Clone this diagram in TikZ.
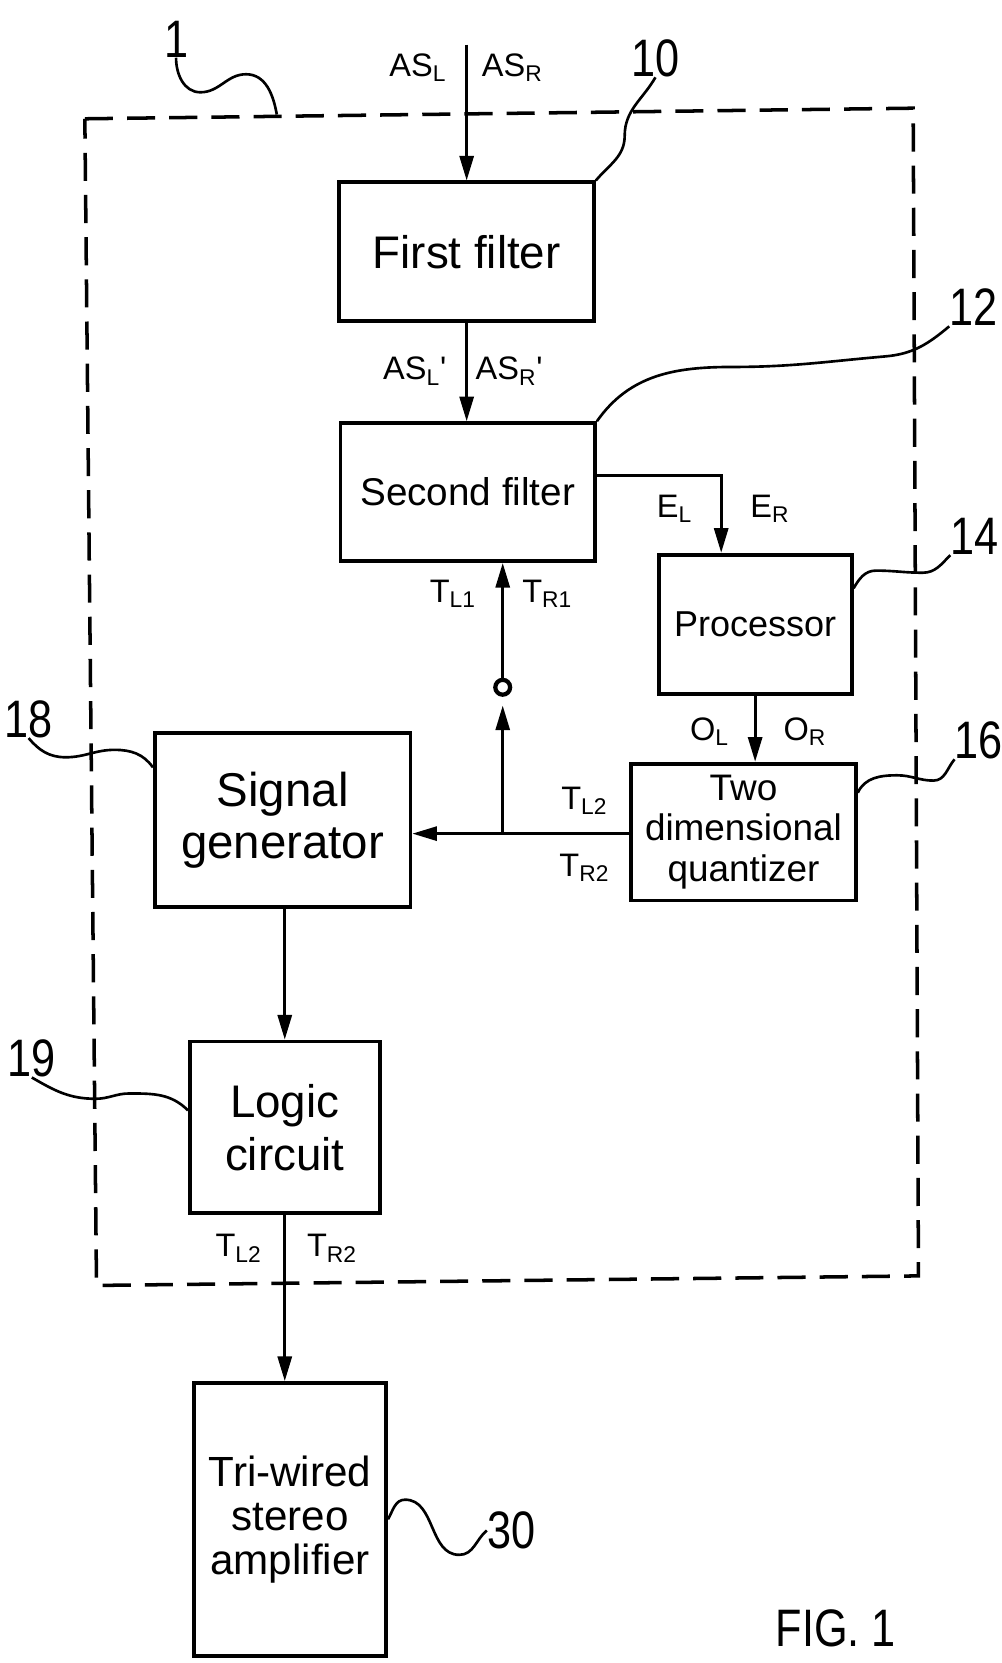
\documentclass[tikz,border=0pt]{standalone}
\usepackage{fontspec}
\setmainfont{Liberation Sans}
\newfontfamily\condfont[FakeStretch=0.82]{Liberation Sans}
\usetikzlibrary{positioning,arrows.meta}
\newdimen\unitpx
\unitpx=0.021208cm
\tikzstyle{block} = [draw=black, line width=2.2pt, fill=white, inner sep=0pt, align=center]
\tikzstyle{arrow} = [line width=1.6pt, -{Triangle[length=14pt,width=8pt]}]
\tikzstyle{lead} = [line width=1.5pt]
\tikzstyle{sig} = [inner sep=0pt, font=\fontsize{18.5}{18.5}\selectfont]
\tikzstyle{refnum} = [inner sep=0pt, font=\condfont\fontsize{30}{30}\selectfont]
\tikzstyle{groupbox} = [line width=2pt, dash pattern=on 16pt off 8pt]

\begin{document}
\begin{tikzpicture}[x=0.021208cm, y=-0.021208cm]
	\useasboundingbox (0,0) rectangle (944,1568);
	% dashed outline of device 1
	\draw[groupbox] (80,112) -- (861,102) -- (866,1203) -- (91,1212) -- cycle;
	\coordinate (gb1) at (261,108);

	\node (ff) [block, minimum width=240*\unitpx, minimum height=131*\unitpx, font=\fontsize{26}{28}\selectfont] at (440,237.5) {First filter};
	\node (sf) [block, minimum width=240*\unitpx, minimum height=130*\unitpx, font=\fontsize{22}{24}\selectfont] at (441,464) {Second filter};
	\node (pr) [block, minimum width=182*\unitpx, minimum height=131*\unitpx, font=\fontsize{20.5}{22}\selectfont] at (712,588.5) {Processor};
	\node (qz) [block, minimum width=212*\unitpx, minimum height=129*\unitpx, font=\fontsize{21}{23}\selectfont] at (701,784.5) {Two\\dimensional\\quantizer};
	\node (sg) [block, minimum width=241*\unitpx, minimum height=164*\unitpx, font=\fontsize{27}{29.5}\selectfont] at (266.5,773) {Signal\\generator};
	\node (lc) [block, minimum width=179*\unitpx, minimum height=162*\unitpx, font=\fontsize{26}{30}\selectfont] at (268.5,1063) {Logic\\circuit};
	\node (amp) [block, minimum width=181*\unitpx, minimum height=257*\unitpx, font=\fontsize{24}{25}\selectfont] at (273.5,1432.5) {Tri-wired\\stereo\\amplifier};
	\node (sw) [circle, draw, line width=2.4pt, minimum size=14*\unitpx, inner sep=0pt] at (474,648) {};

	% signal names
	\node (asl) [sig] at (394,64) {AS\textsubscript{L}};
	\node (asr) [sig] at (483,64) {AS\textsubscript{R}};
	\node (asl2) [sig] at (391,350) {AS\textsubscript{L}\textquotesingle};
	\node (asr2) [sig] at (480,350) {AS\textsubscript{R}\textquotesingle};
	\node (el) [sig] at (636,480) {E\textsubscript{L}};
	\node (er) [sig] at (726,480) {E\textsubscript{R}};
	\node (tl1) [sig] at (427,560) {T\textsubscript{L1}};
	\node (tr1) [sig] at (516,560) {T\textsubscript{R1}};
	\node (ol) [sig] at (669,690) {O\textsubscript{L}};
	\node (or) [sig] at (759,690) {O\textsubscript{R}};
	\node (tl2) [sig] at (551,755) {T\textsubscript{L2}};
	\node (tr2) [sig] at (551,818) {T\textsubscript{R2}};
	\node (tl3) [sig] at (225,1177) {T\textsubscript{L2}};
	\node (tr3) [sig] at (313,1177) {T\textsubscript{R2}};

	% reference numerals
	\node (n1) [refnum] at (166,37) {1};
	\node (n10) [refnum] at (618,55) {10};
	\node (n12) [refnum] at (918,290) {12};
	\node (n14) [refnum] at (919,506) {14};
	\node (n16) [refnum] at (923,698) {16};
	\node (n18) [refnum] at (27,678) {18};
	\node (n19) [refnum] at (30,998) {19};
	\node (n30) [refnum] at (482,1443) {30};
	\node (fig) [refnum] at (788,1535) {FIG. 1};

	% signal path
	\coordinate (in) at (440,42);
	\coordinate (eb) at (680,448);
	\coordinate (jn) at (474,786);
	\draw[arrow] (in) -- (ff.north);
	\draw[arrow] (ff.south) -- (ff.south |- sf.north);
	\draw[arrow] (sf.east |- eb) -- (eb) -- (pr.north -| eb);
	\draw[arrow] (pr.south) -- (pr.south |- qz.north);
	\draw[arrow] (qz.west |- jn) -- (sg.east |- jn);
	\draw[arrow, shorten >=5pt] (jn) -- (sw.south);
	\draw[arrow] (sw.north) -- (sw.north |- sf.south);
	\draw[arrow] (lc.north |- sg.south) -- (lc.north);
	\draw[arrow] (lc.south) -- (lc.south |- amp.north);

	% leader lines
	\draw[lead] (n1.south) to[out=-90,in=180] (189,87) to[out=0,in=180] (232,70) to[out=0,in=100] (gb1);
	\draw[lead] (ff.north east) to[out=50,in=-90] (589,128) to[out=90,in=-120] (n10.south);
	\draw[lead] (sf.north east) to[out=55,in=180] (690,346) to[out=0,in=185] (835,336) to[out=5,in=-140] (n12.south west);
	\draw[lead] (pr.20) to[out=60,in=180] (826,538) to[out=0,in=180] (870,540) to[out=0,in=-135] (n14.south west);
	\draw[lead] (qz.19) to[out=65,in=180] (846,731) to[out=0,in=180] (880,736) to[out=0,in=-130] (n16.south west);
	\draw[lead] (n18.south) to[out=-50,in=180] (62,714) to[out=0,in=180] (108,707) to[out=0,in=125] (sg.158);
	\draw[lead] (n19.south) to[out=-30,in=180] (90,1036) to[out=0,in=180] (122,1031) to[out=0,in=135] (lc.170);
	\draw[lead] (amp.east) to[out=60,in=180] (382,1414) to[out=0,in=180] (433,1466) to[out=0,in=-140] (n30.west);
\end{tikzpicture}
\end{document}
